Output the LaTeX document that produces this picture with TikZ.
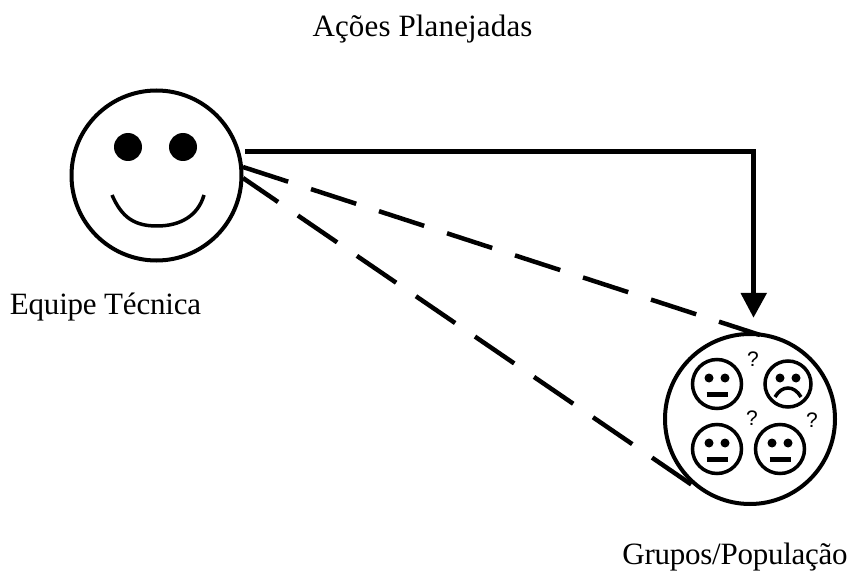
\documentclass[tikz,border=0pt]{standalone}
\usepackage{fontspec}
\setmainfont{Liberation Serif}
\newfontfamily\qfont{Liberation Sans}
\tikzset{x=1pt,y=-1pt,
 face/.style={draw,line width=#1,circle,inner sep=0pt,outer sep=0pt,fill=none},
 lbl/.style={font=\fontsize{31}{34}\selectfont,inner sep=0pt,anchor=base},
 qm/.style={font=\qfont\fontsize{21}{23}\selectfont,inner sep=0pt},
 solidline/.style={line width=5pt},
 dashline/.style={line width=4.5pt,dash pattern=on 47.5pt off 24pt}}
\begin{document}
\begin{tikzpicture}
\useasboundingbox (0,0) rectangle (852,572);
\node[lbl] (t1) at (422.5,37) {\addfontfeature{LetterSpace=0.5}Ações Planejadas};
\node[lbl] (t2) at (105.5,315) {\addfontfeature{LetterSpace=-0.7}Equipe Técnica};
\node[lbl] (t3) at (735,564) {\addfontfeature{LetterSpace=-0.8}Grupos/População};
\node[face=4pt,minimum size=170pt] (big) at (156.5,175.5) {};
\fill (128,147) circle (14) (183,147) circle (14);
\draw[line width=3.5pt] (112,195) .. controls (122,218) and (135,226) .. (157,226) .. controls (180,226) and (198,216) .. (204,195);
\node[face=4pt,minimum size=170pt] (small) at (750,419) {};
\coordinate (c1) at (245,152);
\coordinate (c2) at (753,152);
\coordinate (c3) at (753,294);
\draw[solidline] (c1) -- (c2) -- (c3);
\fill (740.5,293) -- (767,293) -- (753.5,317.5) -- cycle;
\foreach \n/\x/\y/\k/\s in {f1/717/384/0/49,f2/788/384/1/46,f3/717/449/0/49,f4/780/449/0/49}{
 \node[face=3.5pt,minimum size=\s pt] (\n) at (\x,\y) {};
 \fill (\x-8,\y-6) circle (4.5) (\x+8,\y-6) circle (4.5);
 \ifnum\k=0 \draw[line width=5pt] (\x-10.5,\y+10) -- (\x+10.5,\y+10);
 \else \draw[line width=3.5pt] (\x-13,\y+13) .. controls (\x-6,\y+1) and (\x+6,\y+1) .. (\x+13,\y+13);\fi
}
\node[qm] (q1) at (753,359) {?};
\node[qm] (q2) at (752,418) {?};
\node[qm] (q3) at (812,420) {?};
\coordinate (u1) at (243,167);
\coordinate (u2) at (760,335);
\coordinate (l1) at (243,178);
\coordinate (l2) at (695,487);
\draw[dashline] (u1) -- (u2);
\draw[dashline,dash phase=5pt] (l1) -- (l2);
\end{tikzpicture}
\end{document}
